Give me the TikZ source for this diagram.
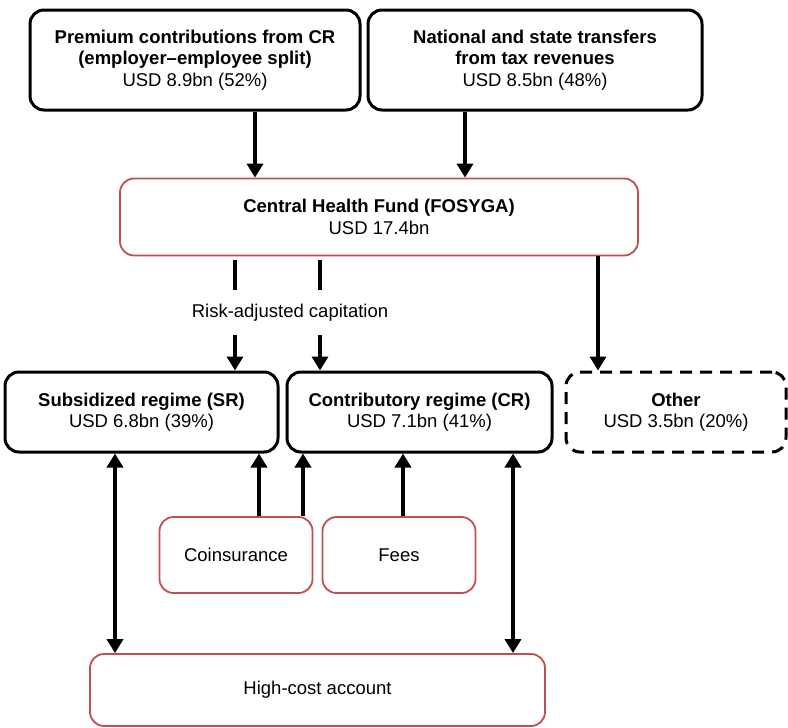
\documentclass[tikz,border=0pt]{standalone}
\usepackage{fontspec}
\setmainfont{Liberation Sans}
\usetikzlibrary{arrows.meta,positioning}
\definecolor{boxred}{RGB}{192,80,77}

\begin{document}
\begin{tikzpicture}[x=1pt,y=-1pt,
    font=\fontsize{18.5}{21.5}\selectfont,
    blackbox/.style={draw, rectangle, rounded corners=14pt, line width=3pt, align=center},
    redbox/.style={draw=boxred, rectangle, rounded corners=14pt, line width=1.8pt, align=center},
    flow/.style={line width=3.8pt, -{Triangle[width=16pt,length=14pt]}},
    twoway/.style={line width=3.8pt, {Triangle[width=16pt,length=14pt]}-{Triangle[width=16pt,length=14pt]}}]
    \useasboundingbox (0,0) rectangle (788,728);

    % sources
    \node[blackbox, minimum width=330pt, minimum height=100pt] (prem) at (195,60)
        {\textbf{Premium contributions from CR}\\\textbf{(employer--employee split)}\\USD 8.9bn (52\%)};
    \node[blackbox, minimum width=334pt, minimum height=100pt] (trans) at (535,60)
        {\textbf{National and state transfers}\\\textbf{from tax revenues}\\USD 8.5bn (48\%)};

    % fund
    \node[redbox, minimum width=518pt, minimum height=77pt] (fund) at (379,217)
        {\textbf{Central Health Fund (FOSYGA)}\\USD 17.4bn};

    % regimes
    \node[blackbox, minimum width=273pt, minimum height=80pt] (sr) at (141.5,412)
        {\textbf{Subsidized regime (SR)}\\USD 6.8bn (39\%)};
    \node[blackbox, minimum width=265pt, minimum height=80pt] (cr) at (419.5,412)
        {\textbf{Contributory regime (CR)}\\USD 7.1bn (41\%)};
    \node[blackbox, dash pattern=on 12pt off 8pt, minimum width=220pt, minimum height=80pt] (other) at (676,412)
        {\textbf{Other}\\USD 3.5bn (20\%)};

    % cost sharing
    \node[redbox, minimum width=153pt, minimum height=76pt] (coins) at (236,555) {Coinsurance};
    \node[redbox, minimum width=153pt, minimum height=76pt] (fees) at (399,555) {Fees};
    \node[redbox, minimum width=455pt, minimum height=72pt] (hca) at (317.5,690) {High-cost account};

    \draw[flow] ([xshift=60pt]prem.south) -- ([xshift=60pt]prem.south |- fund.north);
    \draw[flow] ([xshift=-70pt]trans.south) -- ([xshift=-70pt]trans.south |- fund.north);

    \draw[flow, shorten <=4pt] ([xshift=93.5pt]sr.north |- fund.south) -- ([xshift=93.5pt]sr.north);
    \draw[flow, shorten <=4pt] ([xshift=-99.5pt]cr.north |- fund.south) -- ([xshift=-99.5pt]cr.north);
    \node[fill=white, minimum height=45pt, minimum width=210pt] (cap) at (290,312.5) {Risk-adjusted capitation};
    \draw[flow] ([xshift=-78pt]other.north |- fund.south) -- ([xshift=-78pt]other.north);

    \draw[flow] ([xshift=23pt]coins.north) -- ([xshift=23pt]coins.north |- sr.south);
    \draw[flow] ([xshift=67pt]coins.north) -- ([xshift=67pt]coins.north |- cr.south);
    \draw[flow] ([xshift=4pt]fees.north) -- ([xshift=4pt]fees.north |- cr.south);

    \draw[twoway] ([xshift=-26.5pt]sr.south) -- ([xshift=-26.5pt]sr.south |- hca.north);
    \draw[twoway] ([xshift=93.5pt]cr.south) -- ([xshift=93.5pt]cr.south |- hca.north);
\end{tikzpicture}
\end{document}
